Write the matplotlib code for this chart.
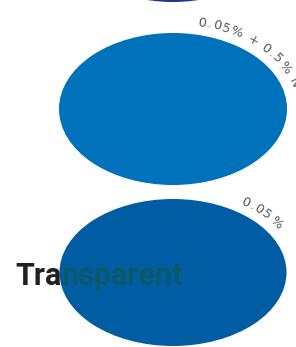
import numpy as np
import matplotlib
matplotlib.use("Agg")
import matplotlib.pyplot as plt
from matplotlib.patches import Ellipse

# rings from top to bottom
labels = ["", "0.05% + 0.5% NO₂", "0.05%"]
colors = ["#1c3888", "#0072bb", "#005da4"]
title = "Transparent"

# layout (pixels, y down)
W, H = 296, 347
ring_cy = [-74, 109, 272.5]
ring_w = [228, 228, 227]
ring_h = [152, 152, 147]
ring_cx = 173
label_t0 = [90, 79, 57]
label_off = 9
label_fs = 9.2
spacing = 1.3

fig = plt.figure(figsize=(W / 100, H / 100), dpi=100)
ax = fig.add_axes([0, 0, 1, 1])
ax.set_xlim(0, W)
ax.set_ylim(H, 0)
ax.axis("off")

font = ["DejaVu Sans"]
rend = fig.canvas.get_renderer()


def arc_text(txt, cx, cy, a, b, t0):
    t = np.radians(t0)
    for ch in txt:
        tmp = ax.text(0, 0, ch, fontsize=label_fs, family=font)
        w = tmp.get_window_extent(renderer=rend).width + spacing
        tmp.remove()
        if ch == " ":
            w = 4.5
        # move half a glyph along the curve (clockwise)
        t -= (w / 2) / np.hypot(a * np.sin(t), b * np.cos(t))
        x = cx + a * np.cos(t)
        y = cy - b * np.sin(t)
        rot = np.degrees(np.arctan2(-b * np.cos(t), a * np.sin(t)))
        if ch != " ":
            ax.text(x, y, ch, fontsize=label_fs, family=font,
                    color="#555555", ha="center", va="baseline",
                    rotation=rot, rotation_mode="anchor")
        t -= (w / 2) / np.hypot(a * np.sin(t), b * np.cos(t))


for i in range(len(colors)):
    e = Ellipse((ring_cx, ring_cy[i]), ring_w[i], ring_h[i],
                facecolor=colors[i], edgecolor="none", zorder=2)
    ax.add_patch(e)
    if labels[i]:
        arc_text(labels[i], ring_cx, ring_cy[i],
                 ring_w[i] / 2 + label_off, ring_h[i] / 2 + label_off, label_t0[i])

# title: black outside the bottom ring, dark teal over it
t1 = ax.text(15, 285, title[:3], fontsize=22, family="Roboto",
             weight="bold", color="#231f20", va="baseline", zorder=3)
x_end = ax.transData.inverted().transform(
    (t1.get_window_extent(renderer=rend).x1, 0))[0]
ax.text(x_end, 285, title[3:], fontsize=22, family="Roboto",
        weight="bold", color="#0b5868", va="baseline", zorder=3)

fig.savefig("out.png", dpi=100)
